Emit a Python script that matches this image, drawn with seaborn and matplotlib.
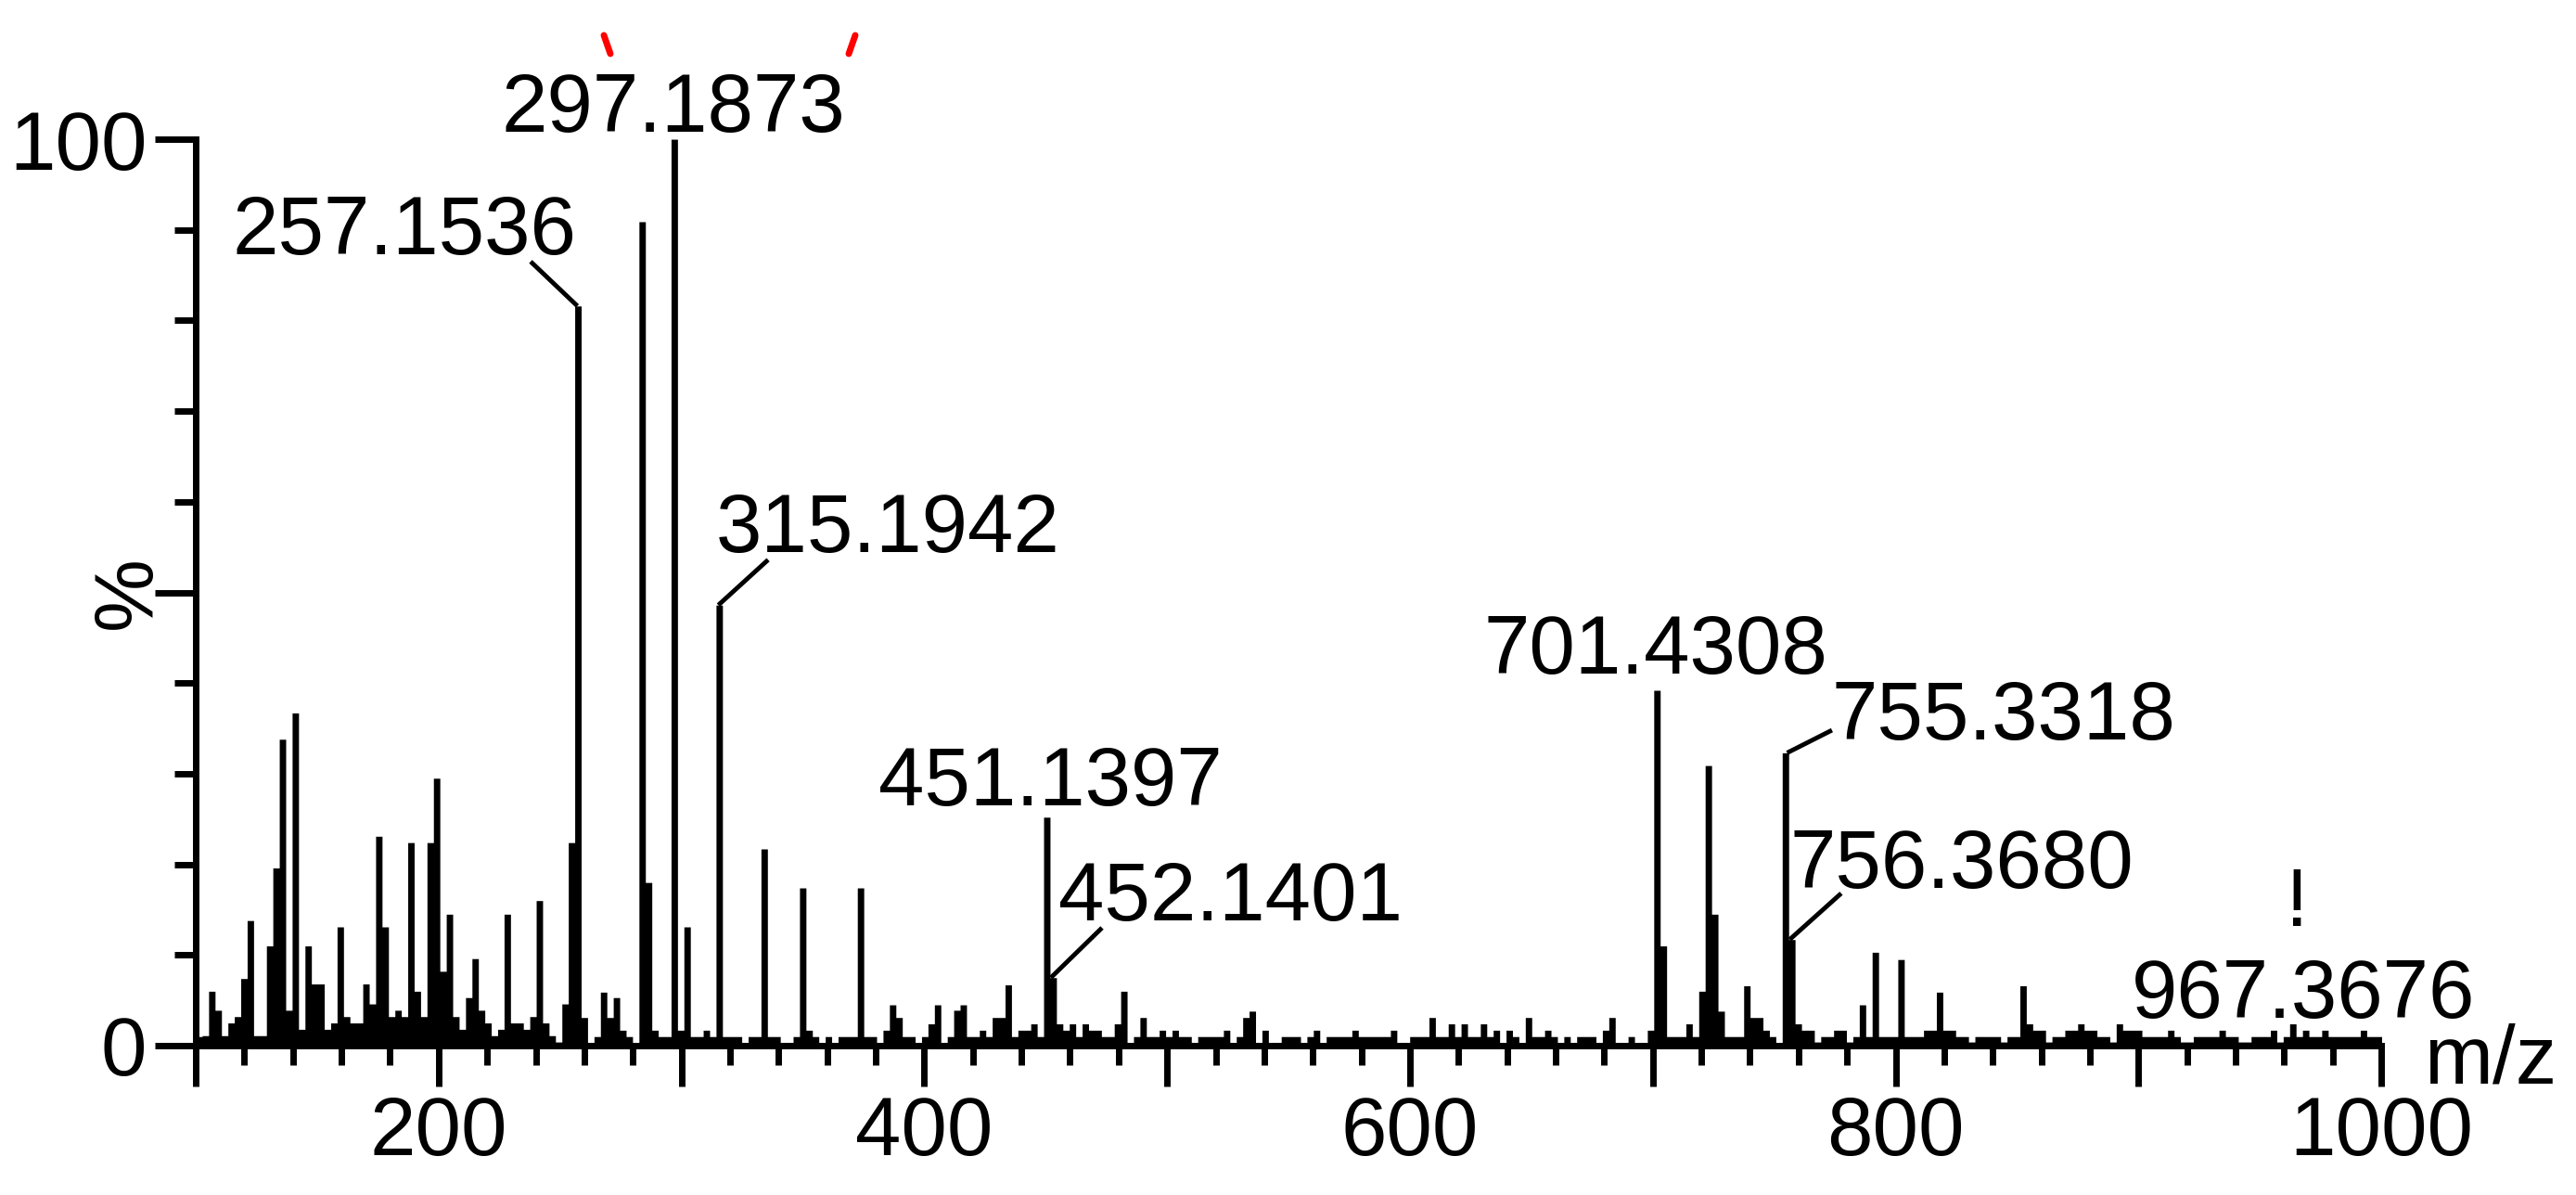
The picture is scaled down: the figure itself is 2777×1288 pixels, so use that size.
import numpy as np
import pandas as pd
import matplotlib
matplotlib.use("Agg")
import matplotlib.pyplot as plt
from matplotlib.ticker import MultipleLocator, FixedLocator, FuncFormatter
from matplotlib.lines import Line2D
import seaborn as sns

# spectrum as drawn on screen: one intensity (%) per m/z column
bin_start = 100.0
bin_width = 2.645
intensity = [
    1.0, 1.1, 6.0, 3.9, 1.1, 2.5, 3.2, 7.4, 13.8, 1.1, 1.1, 11.0, 19.6, 33.8, 3.9, 36.7, 1.8, 11.0, 6.8, 6.8,
    1.8, 2.5, 13.1, 3.2, 2.5, 2.5, 6.8, 4.6, 23.1, 13.1, 3.2, 3.9, 3.2, 22.4, 6.0, 3.2, 22.4, 29.5, 8.2, 14.5,
    3.2, 1.8, 5.3, 9.6, 3.9, 2.5, 1.1, 1.8, 14.5, 2.5, 2.5, 1.8, 3.2, 16.0, 2.5, 1.1, 0.4, 4.6, 22.4, 81.6,
    3.1, 0.3, 1.0, 5.9, 3.1, 5.3, 1.7, 1.0, 0.3, 90.9, 18.0, 1.7, 1.0, 1.0, 100.0, 1.7, 13.1, 1.0, 1.0, 1.7,
    1.0, 48.6, 1.0, 1.0, 1.0, 0.3, 1.0, 1.0, 21.7, 1.0, 1.0, 0.3, 0.3, 1.0, 17.4, 1.7, 1.0, 0.3, 1.0, 0.3,
    1.0, 1.0, 1.0, 17.4, 1.0, 1.0, 0.3, 1.7, 4.5, 3.1, 1.0, 1.0, 0.3, 1.0, 2.4, 4.5, 0.3, 1.0, 3.9, 4.5,
    1.0, 1.0, 1.7, 1.0, 3.1, 3.1, 6.7, 1.0, 1.7, 1.7, 2.4, 1.0, 25.2, 7.5, 2.4, 1.7, 2.4, 1.0, 2.4, 1.7,
    1.7, 1.0, 1.0, 2.4, 6.0, 0.3, 1.0, 3.1, 1.0, 1.0, 1.7, 1.0, 1.7, 1.0, 1.0, 0.3, 1.0, 1.0, 1.0, 1.0,
    1.7, 0.3, 1.0, 3.1, 3.8, 0.3, 1.7, 0.3, 0.3, 1.0, 1.0, 1.0, 0.3, 1.0, 1.7, 0.1, 1.0, 1.0, 1.0, 1.0,
    1.7, 1.0, 1.0, 1.0, 1.0, 1.0, 1.7, 0.3, 0.3, 1.0, 1.0, 1.0, 3.1, 1.0, 1.0, 2.4, 1.0, 2.4, 1.0, 1.0,
    2.4, 1.0, 1.7, 0.3, 1.7, 1.0, 0.3, 3.1, 1.0, 1.0, 1.7, 1.0, 0.3, 1.0, 0.3, 1.0, 1.0, 1.0, 0.3, 1.7,
    3.1, 0.3, 0.3, 1.0, 0.3, 0.3, 1.7, 39.2, 11.0, 1.0, 1.0, 1.0, 2.4, 1.0, 6.0, 30.9, 14.5, 3.8, 1.0, 1.0,
    1.0, 6.6, 3.1, 3.1, 1.7, 1.0, 0.3, 32.3, 11.7, 2.4, 1.7, 1.7, 0.4, 1.0, 1.0, 1.7, 1.7, 0.4, 1.0, 4.5,
    1.0, 10.3, 1.0, 1.0, 1.0, 9.5, 1.0, 1.0, 1.0, 1.7, 1.7, 5.9, 1.7, 1.7, 1.0, 1.0, 0.4, 1.0, 1.0, 1.0,
    1.0, 0.4, 1.0, 1.0, 6.6, 2.4, 1.7, 1.7, 0.4, 1.0, 1.0, 1.7, 1.7, 2.4, 1.7, 1.7, 1.0, 1.0, 0.4, 2.4,
    1.7, 1.7, 1.7, 1.0, 1.0, 1.0, 1.0, 1.7, 1.0, 0.4, 0.4, 1.0, 1.0, 1.0, 1.0, 1.7, 1.0, 1.0, 0.4, 0.4,
    1.0, 1.0, 1.0, 1.7, 0.4, 1.0, 2.4, 1.0, 1.7, 1.0, 1.0, 1.7, 1.0, 1.0, 1.0, 1.0, 1.0, 1.7, 1.0, 1.0, 1.0,
]

# labelled peaks
label_mz = [257.1536, 297.1873, 315.1942, 451.1397, 452.1401, 701.4308, 755.3318, 756.3680, 967.3676]
label_height = [81.6, 100.0, 48.6, 25.2, 7.5, 39.2, 32.3, 11.7, 1.0]

# where each label sits (left edge m/z, baseline %), and leader end points
label_pos = [(114.9, 87.3), (225.7, 100.8), (314.3, 54.5), (381.1, 26.5), (455.2, 13.8),
             (630.2, 41.0), (773.8, 33.8), (756.6, 17.4), (897.2, 3.1)]
leader_end = {0: (237.9, 86.5), 2: (335.7, 53.6), 4: (473.2, 13.0), 6: (773.8, 34.8), 7: (777.6, 16.8)}

edges = bin_start + bin_width * np.arange(len(intensity) + 1)
spec = pd.DataFrame({"mz": edges[:-1] + bin_width / 2, "intensity": intensity})

sns.set_style("white")
plt.rcParams["font.family"] = ["Liberation Sans", "DejaVu Sans"]
for key in ["text.color", "axes.labelcolor", "xtick.color", "ytick.color"]:
    plt.rcParams[key] = "black"
FS = 64

fig = plt.figure(figsize=(27.77, 12.88), dpi=100)
ax = fig.add_axes([0.076, 0.125, 0.9244 - 0.076, 0.8835 - 0.125])

sns.histplot(data=spec, x="mz", weights="intensity", bins=list(edges), element="step",
             fill=True, color="black", alpha=1, linewidth=0, ax=ax)

ax.set_xlim(100, 1000)
ax.set_ylim(0, 100)

for s in ["top", "right"]:
    ax.spines[s].set_visible(False)
for s in ["left", "bottom"]:
    ax.spines[s].set_linewidth(5)
    ax.spines[s].set_color("black")

ax.xaxis.set_major_locator(MultipleLocator(100))
ax.xaxis.set_minor_locator(MultipleLocator(20))
ax.xaxis.set_major_formatter(FuncFormatter(lambda v, p: f"{v:.0f}" if round(v) % 200 == 0 else ""))
ax.yaxis.set_major_locator(FixedLocator([0, 50, 100]))
ax.yaxis.set_minor_locator(MultipleLocator(10))
ax.yaxis.set_major_formatter(FuncFormatter(lambda v, p: "" if round(v) == 50 else f"{v:.0f}"))

ax.tick_params(axis="x", which="major", direction="out", length=32, width=5, pad=6, labelsize=FS)
ax.tick_params(axis="x", which="minor", direction="out", length=15, width=5)
ax.tick_params(axis="y", which="major", direction="out", length=32, width=5, pad=6, labelsize=FS)
ax.tick_params(axis="y", which="minor", direction="out", length=16.5, width=5)
ax.tick_params(bottom=True, left=True, which="both")

ax.set_xlabel("")
ax.set_ylabel("%", fontsize=FS)
ax.yaxis.set_label_coords(-0.013, 0.5)

ax.text(1017.6, -4.1, "m/z", fontsize=FS, ha="left", va="baseline", clip_on=False)

for i, m in enumerate(label_mz):
    x, y = label_pos[i]
    ax.text(x, y, f"{m:.4f}", fontsize=FS, ha="left", va="baseline", clip_on=False)
    if i in leader_end:
        ex, ey = leader_end[i]
        ax.plot([m, ex], [label_height[i], ey], color="black", lw=3.5,
                solid_capstyle="butt", clip_on=False)

ax.text(965.2, 13.2, "!", fontsize=FS, ha="center", va="baseline")

# small red marks above the base peak label
fig.add_artist(Line2D([651 / 2777, 658 / 2777], [1 - 38 / 1288, 1 - 58 / 1288],
                      transform=fig.transFigure, color="red", lw=5))
fig.add_artist(Line2D([922 / 2777, 915 / 2777], [1 - 38 / 1288, 1 - 58 / 1288],
                      transform=fig.transFigure, color="red", lw=5))

fig.savefig("out.png", dpi=100, facecolor="white")
